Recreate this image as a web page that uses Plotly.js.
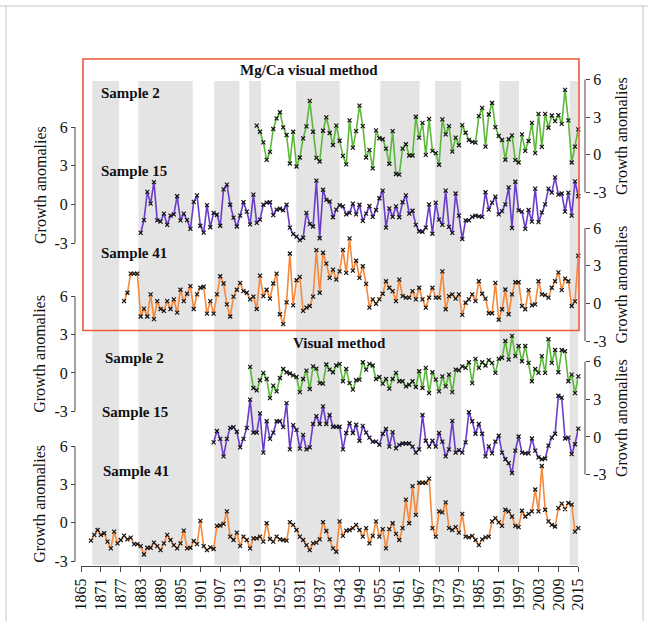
<!DOCTYPE html>
<html><head><meta charset="utf-8">
<script src="https://cdn.plot.ly/plotly-3.0.1.min.js"></script>
<style>html,body{margin:0;padding:0;background:#fff}#chart{width:648px;height:621px}</style>
</head><body><div id="chart"></div>
<script>
// ---------------- DATA ----------------
const xTickYears = [1865,1871,1877,1883,1889,1895,1901,1907,1913,1919,1925,1931,1937,1943,1949,1955,1961,1967,1973,1979,1985,1991,1997,2003,2009,2015];
const bandStarts = [1868.4,1882.3,1905.2,1915.7,1929.9,1955.3,1971.8,1991.2,2012.4];
const bandEnds   = [1876.5,1898.7,1912.8,1919.3,1943.0,1967.1,1979.7,1997.1,2015.0];

// Mg/Ca visual method
const mg2Start = 1918;
const mg2Values = [2.32,1.84,0.99,-0.40,0.24,2.06,2.91,3.39,2.19,1.58,
-0.69,1.84,-0.93,-0.21,1.31,2.27,4.30,1.84,-0.24,-0.53,
1.92,2.98,1.74,0.78,2.32,1.12,-0.08,-0.76,2.74,0.58,
1.89,3.92,2.29,-0.21,0.39,-1.08,1.95,1.32,1.24,0.50,
-0.71,1.89,-1.53,-1.58,0.50,0.84,-0.05,-0.05,3.03,1.37,
2.55,0.00,2.87,0.32,0.13,-0.79,2.82,1.63,2.29,0.26,
1.37,0.76,2.37,1.76,1.18,1.03,0.97,3.08,3.74,0.66,
3.21,4.13,2.21,1.50,1.18,-0.39,1.24,1.55,-0.42,-0.61,
1.63,0.32,1.10,2.55,0.13,3.26,0.63,3.26,2.16,3.13,
2.68,3.16,2.47,5.18,2.74,-0.61,0.66,2.03];

const mg15Start = 1883;
const mg15Values = [-2.22,-1.22,0.97,0.06,1.72,-1.25,-1.34,-0.72,-1.59,-0.88,
-0.78,0.63,-1.25,-0.72,-1.22,-1.91,0.19,0.69,-1.66,-2.19,
-0.06,-1.78,-0.66,-0.81,-1.66,1.16,1.53,-0.03,-1.03,-1.72,
-0.88,0.16,-0.56,-1.56,0.75,-1.44,-1.19,-0.03,0.13,0.16,
-0.84,-0.41,-0.34,-0.47,-0.03,-1.81,-2.31,-2.50,-2.78,-2.59,
-0.66,-1.53,-1.72,1.84,-2.63,1.13,0.34,0.22,-1.00,-0.41,
-0.06,-0.16,-0.78,-0.66,0.06,-0.78,-0.03,-1.28,-0.72,-0.13,
-0.97,-0.44,0.47,1.06,-1.81,-0.31,-0.97,-0.16,-1.00,0.16,
0.69,-0.72,-0.50,-1.59,-2.09,-2.13,-1.81,0.00,-2.28,0.13,
-1.19,-1.59,1.06,-1.75,-2.22,0.84,-0.88,-2.69,-1.25,-1.25,
-0.97,-0.88,-0.94,-0.97,0.94,-0.41,0.13,0.59,-0.78,-0.53,
0.00,1.31,-1.84,1.75,-0.47,-0.56,-1.91,-0.44,-1.34,1.22,
-1.38,-0.63,0.00,1.22,0.91,2.09,0.75,0.84,-0.56,0.91,
-0.88,1.78,0.63];

const mg41Start = 1878;
const mg41Values = [0.18,0.84,2.37,2.37,2.37,-1.05,-0.42,-1.05,0.71,-1.26,
0.18,-0.45,-0.60,0.18,-0.45,0.32,-0.74,1.08,0.18,0.76,
1.37,-0.45,0.71,1.24,1.32,-0.82,0.18,-0.82,0.71,2.16,
1.58,-0.08,-1.05,0.53,1.08,1.63,0.97,0.84,0.32,0.53,
-0.45,2.21,0.58,1.08,0.37,1.58,2.37,-0.87,-1.66,0.08,
3.97,-0.16,1.84,2.11,-0.60,-0.34,-0.21,0.53,4.24,0.84,
4.03,3.16,2.03,
2.68,1.89,2.55,4.26,2.42,5.18,2.60,3.39,2.03,2.95,
1.55,-0.34,0.32,-0.03,0.32,0.76,1.76,1.24,0.97,0.18,
1.89,0.58,0.45,0.45,0.97,0.32,1.24,0.32,-0.34,0.45,
1.24,0.45,0.45,2.55,-0.47,0.58,0.71,0.37,0.71,-0.92,
0.05,0.32,0.71,0.18,1.76,0.76,0.37,-0.79,-0.79,1.63,
-1.31,-0.47,1.10,-0.87,0.71,1.68,1.68,-0.21,-0.47,1.05,
-0.16,-0.08,1.76,0.71,0.66,0.45,1.24,1.76,2.47,1.05,
1.97,1.76,-0.21,0.16,3.79];

// Visual method
const vis2Start = 1916;
const vis2Values = [0.47,-1.19,-1.38,-0.58,0.00,-0.48,-1.98,-1.00,-1.46,-0.40,
0.31,0.05,-0.05,-0.19,-0.32,-1.51,-0.48,0.18,-1.27,0.52,
0.34,-0.80,-0.85,0.66,0.26,
0.05,0.58,0.71,-0.66,0.31,-0.80,-1.32,-0.58,-0.53,0.84,
0.26,0.71,0.58,-0.48,-0.32,-0.85,-0.48,-1.24,-0.48,0.00,
-0.66,-0.66,-1.06,-0.93,-0.66,-1.11,0.13,-1.19,0.39,-1.59,
0.05,-0.53,-1.46,-0.27,-1.06,-0.13,-1.51,0.26,0.21,0.52,
0.39,0.84,-0.80,1.11,0.39,0.84,0.58,1.00,0.79,0.00,
1.11,1.19,2.51,1.05,2.91,1.32,2.12,0.92,2.12,0.79,
-0.66,0.31,0.00,1.32,0.00,2.65,0.79,1.80,0.05,1.80,
1.72,-0.66,-0.13,-1.59,-0.27];

const vis15Start = 1905;
const vis15Values = [-0.44,0.47,-0.16,-1.56,-0.16,0.72,0.78,0.41,-0.84,-0.16,
0.72,2.97,0.34,0.34,1.88,-1.25,1.25,-0.16,0.34,1.25,
1.25,0.78,2.69,-1.00,0.94,0.56,-0.94,0.16,-1.00,-0.84,
1.03,1.66,1.03,2.44,1.03,1.75,0.81,0.81,0.81,
-1.00,0.31,1.09,0.31,0.97,-0.31,0.88,0.34,-0.06,-0.38,
-0.38,-0.63,0.25,0.63,-0.78,0.38,-0.91,-0.63,-0.53,-0.53,
-0.53,-0.78,-1.25,-1.00,1.75,-0.31,-0.78,-0.31,-0.78,0.31,
-0.38,-1.56,-1.00,1.28,-1.25,-1.06,-1.25,-0.44,1.97,1.25,
0.25,1.03,0.25,-1.56,-0.75,-1.31,-0.38,0.09,-1.25,-1.78,
-2.09,-2.88,-1.09,0.03,-1.25,-1.31,-1.31,-0.13,-1.09,-1.63,
-1.78,-1.72,-0.69,-0.06,0.25,3.28,3.13,-0.13,-0.06,-1.38,
-0.59,0.66];

const vis41Start = 1868;
const vis41Values = [-1.40,-0.95,-0.56,-0.95,-0.82,-1.48,-2.01,-0.69,-1.61,-1.35,
-1.01,-1.30,-1.16,-1.67,-1.67,-1.83,-2.49,-1.96,-1.96,-1.56,
-1.83,-2.14,-1.61,-0.95,-1.35,-1.75,-2.01,-1.61,-0.61,-2.01,
-1.96,-1.43,-1.67,0.16,-1.83,-2.14,-1.93,-2.06,-0.24,-0.21,
-0.08,0.90,-1.08,-1.35,-0.77,-1.83,-1.08,-1.35,-2.01,-1.22,
-1.22,-1.08,-1.48,-0.03,-1.27,-1.48,-1.08,-1.30,-1.35,-1.40,
0.05,-0.16,-0.56,-1.08,-1.35,-1.75,-2.14,-1.61,-1.56,-1.30,
0.05,-0.64,-1.30,
-2.01,-2.27,0.11,-1.03,-0.61,-0.56,-0.42,-0.16,-0.56,-1.08,
-0.42,-1.61,-1.03,0.11,-1.08,-0.50,-2.01,-0.50,-0.03,-0.87,
-1.35,-0.42,1.83,-0.03,2.88,0.63,3.15,3.15,3.15,3.47,
-0.42,-1.08,0.90,0.82,1.61,-0.42,-0.56,-0.34,-0.77,0.71,
-1.08,-1.14,-1.03,-1.35,-1.75,-1.30,-1.14,-1.08,0.11,0.37,
0.03,-0.24,1.03,0.90,0.50,-0.24,-0.34,0.95,0.50,0.71,
0.90,2.62,0.90,4.47,1.03,0.11,-0.16,-0.29,1.16,1.51,
1.08,1.56,1.43,-0.69,-0.42];

const axisTickVals = [-3,0,3,6];
const axisTitle = 'Growth anomalies';
const panelTitles = ['Mg/Ca visual method','Visual method'];
const sampleNames = ['Sample 2','Sample 15','Sample 41'];

// ---------------- LAYOUT GEOMETRY ----------------
const W=648, H=621, PL=75, PR=585, PT=40, PB=566;
const px2x = px => (px-PL)/(PR-PL);
const py2y = py => (PB-py)/(PB-PT);
function yrange(p6,pm3){const s=(pm3-p6)/9; return [-3-(PB-pm3)/s, 6+(p6-PT)/s];}
const FONT = 'Liberation Serif, Times New Roman, serif';
const GREEN='#5cb83a', PURPLE='#6a3cc8', ORANGE='#f5883a';

const axesDef = [
  {key:'yaxis',  ref:'y',  side:'left',  p6:127,   pm3:243},   // Mg/Ca Sample 15
  {key:'yaxis2', ref:'y2', side:'right', p6:79.5,  pm3:192.5}, // Mg/Ca Sample 2
  {key:'yaxis3', ref:'y3', side:'right', p6:228,   pm3:341},   // Mg/Ca Sample 41
  {key:'yaxis4', ref:'y4', side:'left',  p6:296.7, pm3:411},   // Visual Sample 2
  {key:'yaxis5', ref:'y5', side:'right', p6:361.7, pm3:474.5}, // Visual Sample 15
  {key:'yaxis6', ref:'y6', side:'left',  p6:446.5, pm3:561}    // Visual Sample 41
];

function series(start, vals, yref, color){
  return {x: vals.map((v,i)=>start+i), y: vals, yaxis: yref, type:'scatter', mode:'lines+markers',
    line:{color:color, width:1.6}, marker:{symbol:'x-thin-open', size:4, color:'#111', line:{width:1.2, color:'#111'}},
    cliponaxis:false, hoverinfo:'x+y', showlegend:false};
}
const traces = [
  series(mg2Start, mg2Values, 'y2', GREEN),
  series(mg15Start, mg15Values, 'y', PURPLE),
  series(mg41Start, mg41Values, 'y3', ORANGE),
  series(vis2Start, vis2Values, 'y4', GREEN),
  series(vis15Start, vis15Values, 'y5', PURPLE),
  series(vis41Start, vis41Values, 'y6', ORANGE)
];

const layout = {
  width:W, height:H, paper_bgcolor:'#fff', plot_bgcolor:'rgba(0,0,0,0)',
  margin:{l:PL, r:W-PR, t:PT, b:H-PB, pad:0},
  font:{family:FONT, color:'#111', size:15},
  showlegend:false,
  xaxis:{domain:[px2x(81), px2x(578.3)], range:[1865,2015], tickmode:'array', tickvals:xTickYears,
    ticktext:xTickYears.map(String), tickangle:-90, ticks:'outside', ticklen:5, tickcolor:'#444',
    showline:true, linecolor:'#444', linewidth:1, showgrid:false, zeroline:false,
    tickfont:{family:FONT, size:16, color:'#111'}, anchor:'y', fixedrange:true},
  shapes:[], annotations:[]
};

axesDef.forEach((a,i)=>{
  const ax = {range:yrange(a.p6,a.pm3), domain:[0,1], tickmode:'array', tickvals:axisTickVals,
    ticktext:axisTickVals.map(String), ticks:'outside', ticklen:4, tickcolor:'#444',
    showline:false, showgrid:false, zeroline:false, side:a.side, anchor:'free',
    position: a.side==='left'?0:1, tickfont:{family:FONT, size:16, color:'#111'}, fixedrange:true};
  if(i>0) ax.overlaying='y';
  layout[a.key]=ax;
  layout.shapes.push({type:'line', xref:'paper', yref:a.ref, x0:a.side==='left'?0:1, x1:a.side==='left'?0:1,
    y0:-3, y1:6, line:{color:'#444', width:1}});
  layout.annotations.push({text:axisTitle, textangle:-90, xref:'paper', yref:a.ref,
    x: a.side==='left'?px2x(40):px2x(621), y:1.5, showarrow:false, xanchor:'center', yanchor:'middle',
    font:{family:FONT, size:16, color:'#111'}});
});

bandStarts.forEach((s,i)=>{
  layout.shapes.push({type:'rect', xref:'x', yref:'paper', x0:s, x1:bandEnds[i], y0:py2y(565), y1:py2y(81),
    fillcolor:'#e4e4e4', line:{width:0}, layer:'below'});
});
layout.shapes.push({type:'rect', xref:'paper', yref:'paper', x0:px2x(83), x1:px2x(579), y0:py2y(330.5), y1:py2y(59),
  line:{color:'#ee5a36', width:1.6}, fillcolor:'rgba(0,0,0,0)'});
layout.shapes.push({type:'line', xref:'paper', yref:'paper', x0:px2x(0), x1:px2x(648), y0:py2y(6), y1:py2y(6), line:{color:'#c4c4c4', width:1}});
layout.shapes.push({type:'line', xref:'paper', yref:'paper', x0:px2x(6), x1:px2x(6), y0:py2y(6), y1:py2y(621), line:{color:'#c4c4c4', width:1}});
layout.shapes.push({type:'line', xref:'paper', yref:'paper', x0:px2x(643), x1:px2x(643), y0:py2y(6), y1:py2y(621), line:{color:'#c4c4c4', width:1}});

function label(text, px, py, anchor){
  layout.annotations.push({text:'<b>'+text+'</b>', xref:'paper', yref:'paper', x:px2x(px), y:py2y(py),
    xanchor:anchor||'left', yanchor:'middle', showarrow:false, font:{family:FONT, size:15, color:'#111'}});
}
label(panelTitles[0], 308.5, 69.5, 'center');
label(panelTitles[1], 339, 343, 'center');
label(sampleNames[0], 99, 93);
label(sampleNames[1], 99, 171);
label(sampleNames[2], 99, 253);
label(sampleNames[0], 102.5, 357.5);
label(sampleNames[1], 100, 411.5);
label(sampleNames[2], 100.5, 471);

Plotly.newPlot('chart', traces, layout, {displayModeBar:false, staticPlot:true});
</script>
</body></html>
